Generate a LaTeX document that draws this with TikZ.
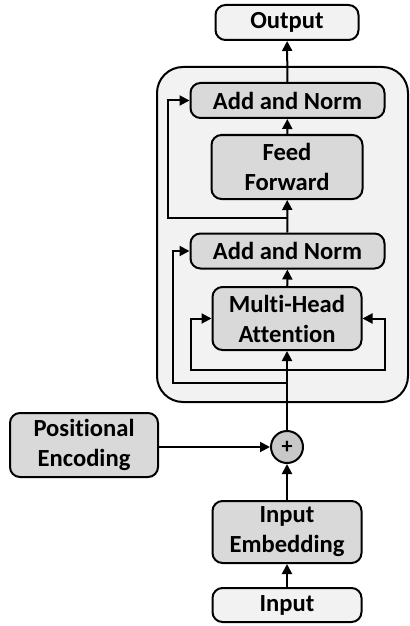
\documentclass[tikz,border=0pt]{standalone}
\usepackage{fontspec}
\setmainfont{Carlito}[Ligatures={NoCommon,NoDiscretionary}]
\usetikzlibrary{arrows.meta}
\definecolor{boxgray}{HTML}{D9D9D9}
\definecolor{palegray}{HTML}{F2F2F2}
\definecolor{sumgray}{HTML}{C8C8C8}
\tikzset{
 block/.style={draw,line width=1pt,rounded corners=5pt,fill=boxgray,align=center,inner sep=0,font=\bfseries\fontsize{12.3}{15}\selectfont},
 paleblock/.style={block,fill=palegray},
 encbox/.style={draw,line width=1pt,rounded corners=13pt,fill=palegray,inner sep=0},
 sumnode/.style={circle,draw,line width=1pt,fill=sumgray,minimum size=16pt,inner sep=0,font=\bfseries\fontsize{11}{11}\selectfont},
 link/.style={line width=1pt,-{Triangle[length=5pt,width=5pt]}},
 plainlink/.style={line width=1pt}
}
\begin{document}
\begin{tikzpicture}[x=0.5pt,y=-0.5pt]
\path[use as bounding box] (0,0) rectangle (409,626);
% encoder layer
\node[encbox,minimum width=125.5pt,minimum height=167.5pt] (enc) at (282.5,234.5) {};
\node[paleblock,minimum width=71.5pt,minimum height=17.5pt] (out) at (287,22.5) {Output};
\node[block,minimum width=97pt,minimum height=17.5pt] (an2) at (287.5,100.5) {Add and Norm};
\node[block,minimum width=75.5pt,minimum height=32pt] (ff) at (287,167) {Feed\\Forward};
\node[block,minimum width=97pt,minimum height=17.5pt] (an1) at (287.5,251) {Add and Norm};
\node[block,minimum width=74.5pt,minimum height=31.5pt] (mha) at (287,318.5) {Multi-Head\\Attention};
% input side
\node[sumnode] (sum) at (287,447) {+};
\node[block,minimum width=74pt,minimum height=32pt] (pe) at (84,445) {Positional\\Encoding};
\node[block,minimum width=74.5pt,minimum height=31pt] (emb) at (287,532) {Input\\Embedding};
\node[paleblock,minimum width=74.5pt,minimum height=17pt] (inp) at (287,605) {Input};
% split points and corners
\coordinate (s1) at (287,218);
\coordinate (c1) at (168,218);
\coordinate (s0) at (287,383);
\coordinate (c0) at (173,383);
\coordinate (q0) at (287,370);
\coordinate (ql) at (191,370);
\coordinate (qr) at (385,370);
% main path
\draw[link] (inp) -- (emb);
\draw[link] (emb) -- (sum);
\draw[link] (pe.east |- sum) -- (sum);
\draw[link] (sum) -- (mha);
\draw[link] (mha) -- (an1);
\draw[link] (an1) -- (ff);
\draw[link] (ff) -- (an2);
\draw[link] (an2) -- (out);
% residuals and attention inputs
\draw[link] (s1) -- (c1) |- (an2.west);
\draw[link] (s0) -- (c0) |- (an1.west);
\draw[link] (q0) -- (ql) |- (mha.west);
\draw[link] (q0) -- (qr) |- (mha.east);
\end{tikzpicture}
\end{document}
